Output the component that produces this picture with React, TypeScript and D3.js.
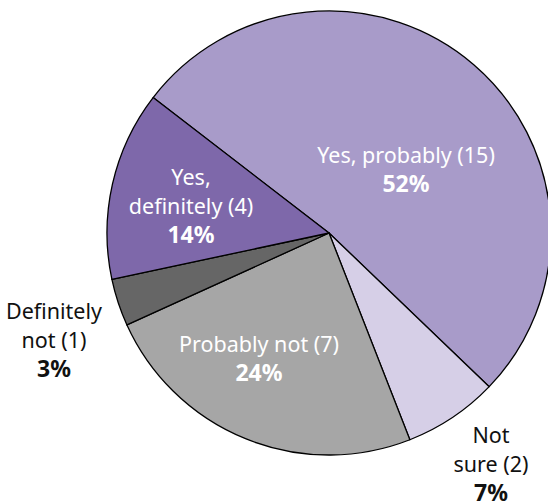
import React from "react";
import * as d3 from "d3";

const categories = ["Yes, probably", "Not sure", "Probably not", "Definitely not", "Yes, definitely"];
const counts = [15, 2, 7, 1, 4];
const percents = ["52%", "7%", "24%", "3%", "14%"];
const colors = ["#a89bc9", "#d6cfe7", "#a6a6a6", "#666666", "#7e68aa"];
// label lines (name split) and text colour
const labelLines = [
  ["Yes, probably (15)"],
  ["Not", "sure (2)"],
  ["Probably not (7)"],
  ["Definitely", "not (1)"],
  ["Yes,", "definitely (4)"],
];
const labelColors = ["#ffffff", "#111111", "#ffffff", "#111111", "#ffffff"];
// label anchor (center x, baseline of first line)
const labelPos: [number, number][] = [
  [406, 163],
  [491, 443],
  [259, 352],
  [54, 319],
  [191, 185],
];

const W = 548;
const H = 502;
const cx = 329;
const cy = 233;
const R = 222;
const startDeg = -52.4;
const FONT = "'Noto Sans', 'DejaVu Sans', sans-serif";

export default function App() {
  const pie = d3
    .pie<number>()
    .sort(null)
    .value((d) => d)
    .startAngle((startDeg * Math.PI) / 180)
    .endAngle((startDeg * Math.PI) / 180 + 2 * Math.PI);
  const arcs = pie(counts);
  const arc = d3.arc<d3.PieArcDatum<number>>().innerRadius(0).outerRadius(R);
  const lh = 29;

  return (
    <svg
      width={W}
      height={H}
      style={{ position: "absolute", left: 0, top: 0, display: "block" }}
    >
      <g transform={`translate(${cx},${cy})`}>
        {arcs.map((a, i) => (
          <path
            key={categories[i]}
            d={arc(a) || ""}
            fill={colors[i]}
            stroke="#000"
            strokeWidth={1.3}
            strokeLinejoin="round"
          />
        ))}
      </g>
      {labelLines.map((lines, i) => (
        <text
          key={"l" + i}
          textAnchor="middle"
          fontFamily={FONT}
          fontSize={21.5}
          fill={labelColors[i]}
        >
          {lines.map((ln, j) => (
            <tspan key={j} x={labelPos[i][0]} y={labelPos[i][1] + j * lh}>
              {ln}
            </tspan>
          ))}
          <tspan
            x={labelPos[i][0]}
            y={labelPos[i][1] + lines.length * lh}
            fontWeight="bold"
            fontSize={23}
          >
            {percents[i]}
          </tspan>
        </text>
      ))}
    </svg>
  );
}
